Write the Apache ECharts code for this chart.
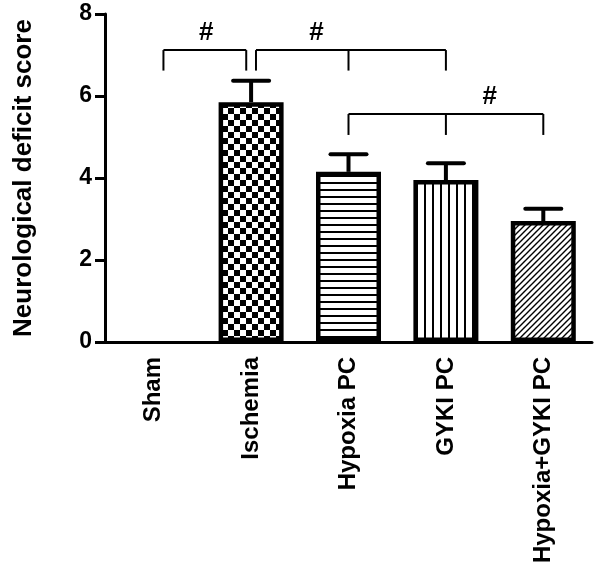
<!DOCTYPE html>
<html>
<head>
<meta charset="utf-8">
<script src="https://cdn.jsdelivr.net/npm/echarts@6/dist/echarts.min.js"></script>
<style>
  html, body { margin: 0; padding: 0; background: #fff; }
  #chart { width: 600px; height: 574px; }
</style>
</head>
<body>
<div id="chart"></div>
<script>
// data
const categories = ['Sham', 'Ischemia', 'Hypoxia PC', 'GYKI PC', 'Hypoxia+GYKI PC'];
const means = [0, 5.85, 4.15, 3.95, 2.95];
const errUpper = [0, 6.37, 4.58, 4.36, 3.25];
const yTicks = [0, 2, 4, 6, 8];

// significance brackets: legs on category index, bar height, leg foot, "#" position
const bracketLegs = [[0.1, 0.95], [1.05, 2, 3], [2, 3, 4]];
const bracketTop = [7.12, 7.12, 5.56];
const bracketFoot = [6.62, 6.62, 5.05];
const markX = [0.54, 1.67, 3.45];
const markY = [7.54, 7.54, 5.97];

// fill patterns for the bars
function makePattern(kind) {
    const c = document.createElement('canvas');
    const s = kind === 'checker' ? 12 : kind === 'hline' ? 7 : kind === 'vline' ? 8 : 6;
    c.width = s; c.height = s;
    const g = c.getContext('2d');
    g.fillStyle = '#fff';
    g.fillRect(0, 0, s, s);
    g.fillStyle = '#000';
    g.strokeStyle = '#000';
    if (kind === 'checker') {
        g.fillRect(0, 0, 6, 6);
        g.fillRect(6, 6, 6, 6);
    } else if (kind === 'hline') {
        g.fillRect(0, 0, s, 2);
    } else if (kind === 'vline') {
        g.fillRect(0, 0, 2, s);
    } else {
        g.lineWidth = 1.4;
        g.beginPath();
        g.moveTo(-1, s + 1); g.lineTo(s + 1, -1);
        g.moveTo(-1, 1); g.lineTo(1, -1);
        g.moveTo(s - 1, s + 1); g.lineTo(s + 1, s - 1);
        g.stroke();
    }
    return { image: c, repeat: 'repeat' };
}
const fills = ['#fff', makePattern('checker'), makePattern('hline'), makePattern('vline'), makePattern('diag')];

const chart = echarts.init(document.getElementById('chart'));

// category index (may be fractional) -> pixel x
function catX(api, v) {
    const i = Math.round(v);
    const base = api.coord([i, 0])[0];
    const band = api.size([1, 0])[0];
    return base + (v - i) * band;
}

const option = {
    animation: false,
    grid: { left: 105, right: 8, top: 14, bottom: 232 },
    xAxis: {
        type: 'category',
        data: categories,
        boundaryGap: true,
        axisLine: { lineStyle: { color: '#000', width: 3 } },
        axisTick: { alignWithLabel: true, length: 11, lineStyle: { color: '#000', width: 3 } },
        axisLabel: {
            rotate: 90, margin: 15, color: '#000',
            fontFamily: 'Liberation Sans', fontWeight: 'bold', fontSize: 24
        }
    },
    yAxis: {
        type: 'value',
        min: yTicks[0], max: yTicks[yTicks.length - 1], interval: 2,
        name: 'Neurological deficit score',
        nameLocation: 'middle',
        nameGap: 68,
        nameTextStyle: { color: '#000', fontFamily: 'Liberation Sans', fontWeight: 'bold', fontSize: 26 },
        axisLine: { show: true, lineStyle: { color: '#000', width: 3 } },
        axisTick: { show: true, length: 10, lineStyle: { color: '#000', width: 3 } },
        axisLabel: { margin: 13, color: '#000', fontFamily: 'Liberation Sans', fontWeight: 'bold', fontSize: 23 },
        splitLine: { show: false }
    },
    series: [
        {
            type: 'bar',
            barWidth: 65,
            data: means.map((v, i) => ({
                value: v,
                itemStyle: { color: fills[i], borderColor: '#000', borderWidth: v > 0 ? 4.5 : 0 }
            })),
            z: 2
        },
        {
            // error bars (upper only)
            type: 'custom',
            data: means.map((v, i) => [i, v, errUpper[i]]),
            z: 3,
            renderItem: function (params, api) {
                if (api.value(2) <= api.value(1)) return null;
                const p0 = api.coord([api.value(0), api.value(1)]);
                const p1 = api.coord([api.value(0), api.value(2)]);
                const half = 18;
                return {
                    type: 'group',
                    children: [
                        { type: 'line', shape: { x1: p0[0], y1: p0[1], x2: p1[0], y2: p1[1] },
                          style: { stroke: '#000', lineWidth: 4 } },
                        { type: 'line', shape: { x1: p1[0] - half, y1: p1[1], x2: p1[0] + half, y2: p1[1] },
                          style: { stroke: '#000', lineWidth: 4, lineCap: 'round' } }
                    ]
                };
            }
        },
        {
            // significance brackets
            type: 'custom',
            data: bracketLegs.map((legs, i) => [i]),
            z: 3,
            renderItem: function (params, api) {
                const k = params.dataIndex;
                const legs = bracketLegs[k];
                const yTop = api.coord([0, bracketTop[k]])[1];
                const yFoot = api.coord([0, bracketFoot[k]])[1];
                const xs = legs.map(v => catX(api, v));
                const children = [
                    { type: 'line', shape: { x1: xs[0], y1: yTop, x2: xs[xs.length - 1], y2: yTop },
                      style: { stroke: '#000', lineWidth: 2 } }
                ];
                xs.forEach(x => children.push({
                    type: 'line', shape: { x1: x, y1: yTop, x2: x, y2: yFoot },
                    style: { stroke: '#000', lineWidth: 2 }
                }));
                children.push({
                    type: 'text',
                    x: catX(api, markX[k]),
                    y: api.coord([0, markY[k]])[1],
                    style: {
                        text: '#', fill: '#000', align: 'center', verticalAlign: 'middle',
                        fontFamily: 'Liberation Sans', fontWeight: 'bold', fontSize: 26
                    }
                });
                return { type: 'group', children: children };
            }
        }
    ]
};
chart.setOption(option);
</script>
</body>
</html>
